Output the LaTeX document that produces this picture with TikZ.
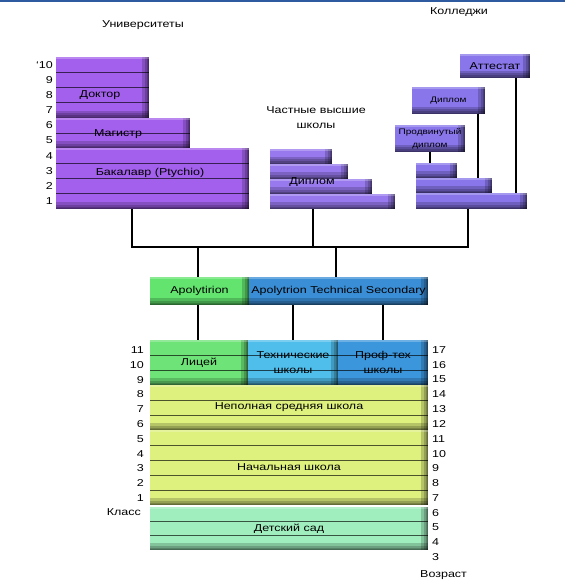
\documentclass[tikz,border=0pt]{standalone}
\usepackage{fontspec}
\setmainfont{Liberation Sans}[FakeStretch=1.25]
\usetikzlibrary{calc}
\definecolor{topblue}{RGB}{45,90,160}
\definecolor{unipurple}{RGB}{163,96,236}
\definecolor{privpurple}{RGB}{152,122,238}
\definecolor{collviolet}{RGB}{136,118,234}
\definecolor{apolgreen}{RGB}{98,228,110}
\definecolor{techblue}{RGB}{58,142,214}
\definecolor{lycgreen}{RGB}{110,228,120}
\definecolor{techcyan}{RGB}{80,190,235}
\definecolor{profblue}{RGB}{60,150,220}
\definecolor{schoolyellow}{RGB}{222,240,125}
\definecolor{kindermint}{RGB}{160,238,190}
\newcommand{\slabshade}{%
  \foreach \w in {7,4.5,2.5,1}{%
    \fill[black, opacity=.18] ([xshift=-\w pt]path picture bounding box.north east) rectangle (path picture bounding box.south east);
    \fill[black, opacity=.18] ([yshift=\w pt]path picture bounding box.south west) rectangle (path picture bounding box.south east);
  }%
  \fill[white, opacity=.25] (path picture bounding box.north west) rectangle ([yshift=-2pt]path picture bounding box.north east);
}
\tikzset{
  box/.style={rectangle, inner sep=0pt, outer sep=0pt, anchor=north west},
  slab/.style={box, path picture={%
    \ifnum#1>1
      \foreach \i in {2,...,#1}{%
        \pgfmathsetmacro\frac{(\i-1)/#1}
        \draw[rowline] ($(path picture bounding box.north west)!\frac!(path picture bounding box.south west)$) -- ($(path picture bounding box.north east)!\frac!(path picture bounding box.south east)$);
      }%
    \fi
    \slabshade}},
  rowline/.style={line width=0.8pt, black, opacity=.65},
  lbl/.style={inner sep=0pt},
  small/.style={font=\fontsize{8}{13}\selectfont},
  num/.style={inner sep=0pt},
  link/.style={line width=2pt},
  every node/.style={font=\fontsize{10}{15}\selectfont}
}
\begin{document}
\begin{tikzpicture}[x=1pt, y=-1pt]
  \useasboundingbox (0,0) rectangle (565,588);
  \fill[topblue] (0,0) rectangle (565,2.5);

  % universities
  \node[lbl] (t-univ) at (143,25) {Университеты};
  \node[slab=4, fill=unipurple, minimum width=93, minimum height=60.8] (doktor) at (56,57) {};
  \node[slab=2, fill=unipurple, minimum width=134, minimum height=30.4] (magistr) at (56,117.8) {};
  \node[slab=4, fill=unipurple, minimum width=193, minimum height=60.8] (bakalavr) at (56,148.2) {};
  \node[lbl] (l-doktor) at (100,95) {Доктор};
  \node[lbl] (l-magistr) at (118,134) {Магистр};
  \node[lbl] (l-bakalavr) at (150,173) {Бакалавр (Ptychio)};
  \foreach \k in {1,...,9}
    \node[num, anchor=east] (u-\k) at (53,{209-(\k-0.5)*15.2}) {\k};
  \node[num, anchor=east] (u-10) at (53,{209-9.5*15.2}) {`10};

  % private schools
  \node[lbl, align=center] (t-priv) at (316,118) {Частные высшие\\школы};
  \node[slab=1, fill=privpurple, minimum width=62, minimum height=15] (priv1) at (270,149) {};
  \node[slab=1, fill=privpurple, minimum width=78, minimum height=15] (priv2) at (270,164) {};
  \node[slab=1, fill=privpurple, minimum width=102, minimum height=15] (priv3) at (270,179) {};
  \node[slab=1, fill=privpurple, minimum width=125, minimum height=15] (priv4) at (270,194) {};
  \node[lbl] (l-diplom) at (312,182) {Диплом};

  % colleges
  \node[lbl] (t-coll) at (459,12) {Колледжи};
  \node[slab=1, fill=collviolet, minimum width=70, minimum height=24] (attestat) at (460,54) {Аттестат};
  \node[slab=1, fill=collviolet, small, minimum width=73, minimum height=27] (dcoll) at (412,87) {Диплом};
  \node[slab=1, fill=collviolet, small, align=center, minimum width=70, minimum height=27] (adv) at (395,125) {Продвинутый\\диплом};
  \node[slab=1, fill=collviolet, minimum width=41, minimum height=15] (coll1) at (416,163) {};
  \node[slab=1, fill=collviolet, minimum width=76, minimum height=15] (coll2) at (416,178) {};
  \node[slab=1, fill=collviolet, minimum width=111, minimum height=16] (coll3) at (416,193) {};

  % upper secondary
  \node[slab=1, fill=apolgreen, minimum width=99, minimum height=28] (apolyt) at (150,277) {Apolytirion};
  \node[slab=1, fill=techblue, minimum width=179, minimum height=28] (techsec) at (249,277) {Apolytrion Technical Secondary};

  % schools
  \node[slab=3, fill=lycgreen, minimum width=98, minimum height=45] (lyceum) at (150,340) {Лицей};
  \node[slab=3, fill=techcyan, align=center, minimum width=90, minimum height=45] (techschool) at (248,340) {Технические\\школы};
  \node[slab=3, fill=profblue, align=center, minimum width=90, minimum height=45] (proftech) at (338,340) {Проф-тех\\школы};
  \node[slab=3, fill=schoolyellow, minimum width=278, minimum height=45] (nepoln) at (150,385) {Неполная средняя школа};
  \node[slab=5, fill=schoolyellow, minimum width=278, minimum height=75] (nachal) at (150,430) {Начальная школа};
  \node[slab=3, fill=kindermint, minimum width=278, minimum height=43] (detsad) at (150,507) {Детский сад};
  \foreach \k in {1,...,11}
    \node[num, anchor=east] (g-\k) at (144,{350+(11-\k)*14.8}) {\k};
  \node[num, anchor=east] (klass) at (141,512) {Класс};
  \foreach \a in {3,...,17}
    \node[num, anchor=west] (a-\a) at (432,{350+(17-\a)*14.8}) {\a};
  \node[num, anchor=west] (vozrast) at (420,575) {Возраст};

  % connectors
  \coordinate (bus-l) at (132,247);
  \coordinate (bus-m) at (313,247);
  \coordinate (bus-r) at (468,247);
  \coordinate (ap-drop) at (198,247);
  \coordinate (ts-drop) at (336,247);
  \coordinate (d-drop) at ([xshift=29.5pt]dcoll.south);
  \coordinate (a-drop) at ([xshift=21pt]attestat.south);
  \draw[link] (bakalavr.south -| bus-l) -- (bus-l) -- (bus-r) -- (coll3.south -| bus-r);
  \draw[link] (priv4.south -| bus-m) -- (bus-m);
  \draw[link] (ap-drop) -- (ap-drop |- apolyt.north);
  \draw[link] (ts-drop) -- (ts-drop |- techsec.north);
  \draw[link] (ap-drop |- apolyt.south) -- (ap-drop |- lyceum.north);
  \draw[link] (techschool.north |- techsec.south) -- (techschool.north);
  \draw[link] (proftech.north |- techsec.south) -- (proftech.north);
  \draw[link] (adv.south) -- (adv.south |- coll1.north);
  \draw[link] (d-drop) -- (d-drop |- coll2.north);
  \draw[link] (a-drop) -- (a-drop |- coll3.north);
\end{tikzpicture}
\end{document}
